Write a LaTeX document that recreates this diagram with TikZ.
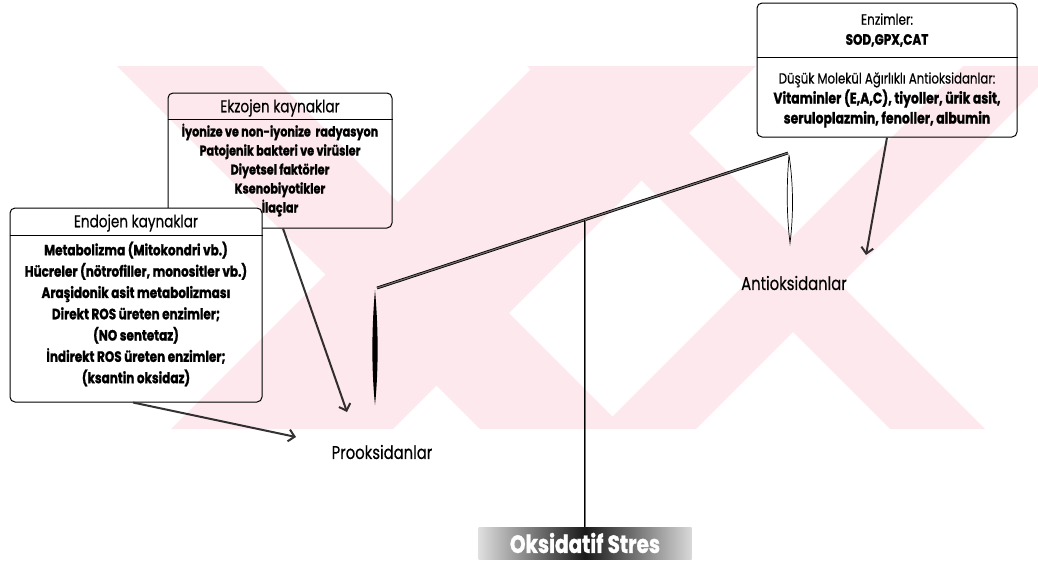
\documentclass[tikz,border=0pt]{standalone}
\usepackage{fontspec}
\setmainfont{Poppins}[FakeStretch=0.8,
    UprightFeatures={FakeBold=0.4},
    BoldFeatures={FakeBold=1.2}]
\usetikzlibrary{arrows.meta,positioning}

\definecolor{wmpink}{RGB}{253,233,237}

\tikzset{
  panel/.style={draw, line width=1pt, rounded corners=5pt, fill=white, inner sep=0pt},
  headtxt/.style={font=\fontsize{17}{20}\selectfont, inner sep=0pt},
  bodytxt/.style={font=\bfseries\fontsize{15}{21.3}\selectfont, align=center, inner sep=0pt},
  sidelabel/.style={font=\fontsize{18.5}{20}\selectfont, inner sep=0pt},
  pull/.style={line width=2pt, black!80, -{Straight Barb[length=6pt,width=12pt,line width=2pt]}},
  rail/.style={double=black!55, double distance=1.2pt, line width=0.8pt},
}

\begin{document}
\begin{tikzpicture}[x=1pt,y=-1pt]
    \useasboundingbox (0,0) rectangle (1038,563);

    % source boxes
    \node[panel, minimum width=224pt, minimum height=135pt] (exo) at (280,160.5) {};
    \draw[line width=1pt] (exo.west |- 0,119) -- (exo.east |- 0,119);
    \node[headtxt] (exoT) at (280,108) {Ekzojen kaynaklar};
    \node[bodytxt, font=\bfseries\fontsize{14}{19}\selectfont] (exoB) at (280,170) {%
        İyonize ve non-iyonize\ \ radyasyon\\
        Patojenik bakteri ve virüsler\\
        Diyetsel faktörler\\
        Ksenobiyotikler\\
        İlaçlar};

    \node[panel, minimum width=252pt, minimum height=194pt] (endo) at (136,305) {};
    \draw[line width=1pt] (endo.west |- 0,235) -- (endo.east |- 0,235);
    \node[headtxt] (endoT) at (136,223) {Endojen kaynaklar};
    \node[bodytxt] (endoB) at (136,314) {%
        Metabolizma (Mitokondri vb.)\\
        Hücreler (nötrofiller, monositler vb.)\\
        Araşidonik asit metabolizması\\
        Direkt ROS üreten enzimler;\\
        (NO sentetaz)\\
        İndirekt ROS üreten enzimler;\\
        (ksantin oksidaz)};

    % antioxidant box
    \node[panel, minimum width=260pt, minimum height=134pt] (enz) at (887,70) {};
    \draw[line width=1pt] (enz.west |- 0,57) -- (enz.east |- 0,57);
    \node[bodytxt, font=\fontsize{15}{20}\selectfont] (enzT) at (887,30) {%
        Enzimler:\\ \textbf{SOD,GPX,CAT}};
    \node[bodytxt, font=\bfseries\fontsize{15.5}{20}\selectfont] (enzB) at (887,100) {%
        {\mdseries\fontsize{14.7}{20}\selectfont Düşük Molekül Ağırlıklı Antioksidanlar:}\\
        Vitaminler (E,A,C), tiyoller, ürik asit,\\
        seruloplazmin, fenoller, albumin};

    % balance
    \coordinate (pivot) at (585,220);
    \coordinate (beamL) at (377,288);
    \coordinate (beamR) at (788,153);
    \node[minimum width=213pt, minimum height=32pt, inner sep=0pt,
          left color=gray!25, right color=gray!30, middle color=black!90,
          text=white, font=\bfseries\fontsize{25}{28}\selectfont] (stress) at (585,543) {Oksidatif Stres};
    \draw[rail] (beamL) -- (beamR);
    \draw[rail, line width=0.6pt, double distance=1pt] (pivot) -- (stress.north);
    \fill (beamL) ++(-2,2) .. controls (378.5,330) and (378.5,370) .. (375,405)
          .. controls (371.5,370) and (371.5,330) .. (375,290) -- cycle;
    \draw[line width=0.7pt] (beamR) ++(1,2) .. controls (793.5,185) and (793.5,215) .. (790,243)
          .. controls (786.5,215) and (786.5,185) .. (789,155);

    % labels
    \node[sidelabel] (pro) at (382,452) {Prooksidanlar};
    \node[sidelabel] (anti) at (794,283) {Antioksidanlar};

    % arrows
    \coordinate (exoEnd) at (347,412);
    \coordinate (endoEnd) at (296,437);
    \coordinate (enzEnd) at (866,255);
    \draw[pull] ([xshift=3pt]exo.south) -- (exoEnd);
    \draw[pull] ([xshift=-3pt]endo.south) -- (endoEnd);
    \draw[pull] (enz.south) -- (enzEnd);

    % watermark stripes, printed over the page
    \begin{scope}[blend mode=multiply]
        \clip (117,66) rectangle (1038,429);
        \fill[wmpink, nonzero rule]
            (117,66) -- (262,66) -- (625,429) -- (480,429) -- cycle
            (534,66) -- (756,66) -- (393,429) -- (171,429) -- cycle
            (527,66) -- (622,66) -- (985,429) -- (890,429) -- cycle
            (963,66) -- (1059,66) -- (696,429) -- (600,429) -- cycle;
    \end{scope}
\end{tikzpicture}
\end{document}
